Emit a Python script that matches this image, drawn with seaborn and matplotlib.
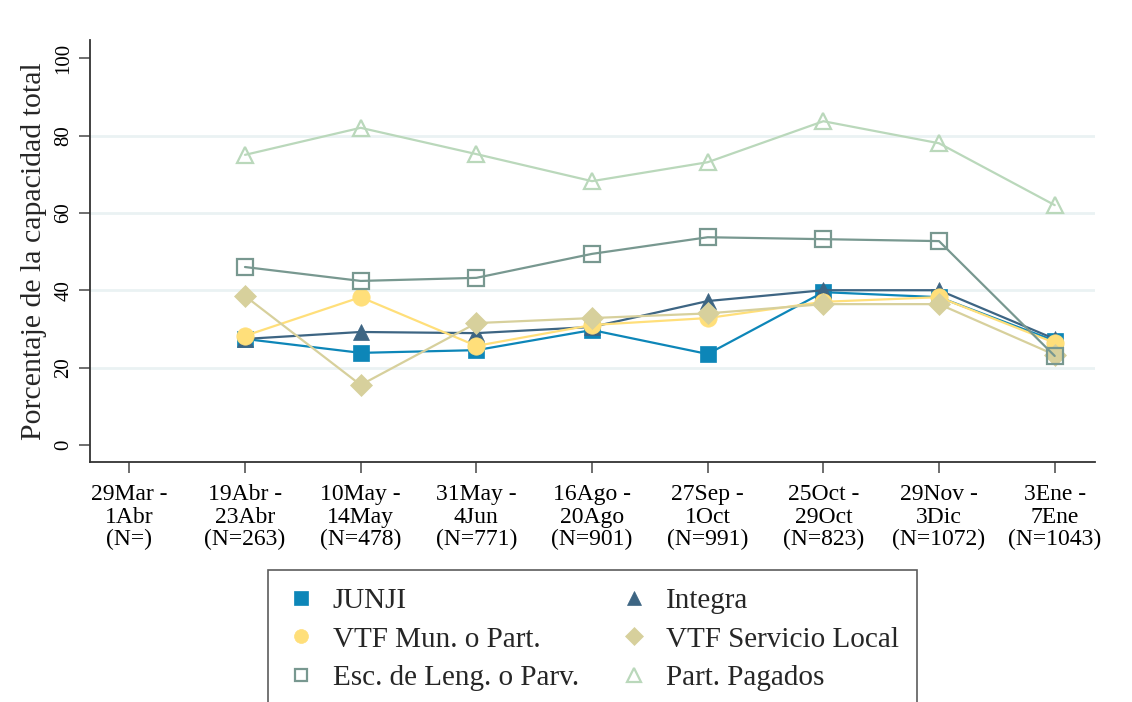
import numpy as np
import matplotlib
matplotlib.use("Agg")
import matplotlib.pyplot as plt
import seaborn as sns

# ── data ───────────────────────────────────────────────────────────────
periods = ["29Mar -\n1Abr\n(N=)", "19Abr -\n23Abr\n(N=263)", "10May -\n14May\n(N=478)",
           "31May -\n4Jun\n(N=771)", "16Ago -\n20Ago\n(N=901)", "27Sep -\n1Oct\n(N=991)",
           "25Oct -\n29Oct\n(N=823)", "29Nov -\n3Dic\n(N=1072)", "3Ene -\n7Ene\n(N=1043)"]

junji = [np.nan, 27.4, 23.8, 24.5, 29.7, 23.5, 39.5, 38.2, 26.9]
integra = [np.nan, 27.4, 29.2, 28.9, 30.5, 37.2, 40.0, 40.0, 27.4]
vtf_mun = [np.nan, 28.2, 38.2, 25.6, 31.0, 32.8, 37.0, 38.2, 26.4]
vtf_local = [np.nan, 38.5, 15.5, 31.5, 32.8, 34.0, 36.4, 36.4, 23.3]
esc_leng = [np.nan, 46.0, 42.4, 43.2, 49.4, 53.7, 53.2, 52.7, 23.0]
part_pag = [np.nan, 75.0, 82.0, 75.2, 68.2, 73.1, 83.7, 78.0, 62.0]

# ── style ──────────────────────────────────────────────────────────────
sns.set_style("white")
plt.rcParams["font.family"] = ["Liberation Serif", "DejaVu Serif"]

fig = plt.figure(figsize=(11.32, 7.02), dpi=100)
ax = fig.add_axes([0.0795, 0.342, 0.888, 0.601])

x = np.arange(len(periods))

# (label, values, color, marker, size, filled)
series = [
    ("JUNJI", junji, "#0d86b8", "s", 12, True),
    ("Integra", integra, "#3d6583", "^", 12, True),
    ("VTF Mun. o Part.", vtf_mun, "#ffdf7a", "o", 12.5, True),
    ("VTF Servicio Local", vtf_local, "#d7d09c", "D", 11.5, True),
    ("Esc. de Leng. o Parv.", esc_leng, "#789890", "s", 11.5, False),
    ("Part. Pagados", part_pag, "#bad8bb", "^", 12, False),
]

for label, vals, col, mk, ms, filled in series:
    sns.lineplot(x=x, y=vals, ax=ax, color=col, linewidth=1.6, label=label,
                 marker=mk, markersize=ms,
                 markerfacecolor=col if filled else "none",
                 markeredgecolor=col, markeredgewidth=1.6 if not filled else 0.5)

# ── axes ───────────────────────────────────────────────────────────────
ax.set_xlim(-0.34, 8.35)
ax.set_ylim(-4.4, 104.7)
ax.set_yticks([0, 20, 40, 60, 80, 100])
ax.set_xticks(x)
ax.set_xticklabels(periods, fontsize=17, linespacing=1.1)
ax.tick_params(axis="y", labelsize=15, labelrotation=90, length=8, width=1.2,
               direction="out", left=True, pad=4, colors="#555555", labelcolor="black")
ax.tick_params(axis="x", length=8, width=1.2, direction="out", bottom=True, pad=8,
               colors="#555555", labelcolor="black")
for lbl in ax.get_yticklabels():
    lbl.set_va("center")

for yv in [20, 40, 60, 80]:
    ax.axhline(yv, color="#eaf2f3", linewidth=2, zorder=0)

ax.set_ylabel("Porcentaje de la capacidad total", fontsize=21.5, labelpad=5)
ax.set_xlabel("")

sns.despine(ax=ax)
for side in ["left", "bottom"]:
    ax.spines[side].set_color("#333333")
    ax.spines[side].set_linewidth(1.3)

# ── legend (row-wise order, 2 columns) ─────────────────────────────────
handles, labels = ax.get_legend_handles_labels()
order = [0, 2, 4, 1, 3, 5]
leg = ax.legend([handles[i] for i in order], [labels[i] for i in order],
                ncol=2, loc="upper center", bbox_to_anchor=(0.5, -0.256),
                borderaxespad=0, fontsize=21, frameon=True, fancybox=False,
                edgecolor="#333333", handlelength=1.0, handletextpad=0.6,
                columnspacing=1.4, labelspacing=0.42, borderpad=0.6,
                markerscale=0.8)
leg.get_frame().set_linewidth(1.2)
for h in leg.get_lines():
    h.set_linestyle("none")

fig.savefig("out.png", dpi=100, facecolor="white")
